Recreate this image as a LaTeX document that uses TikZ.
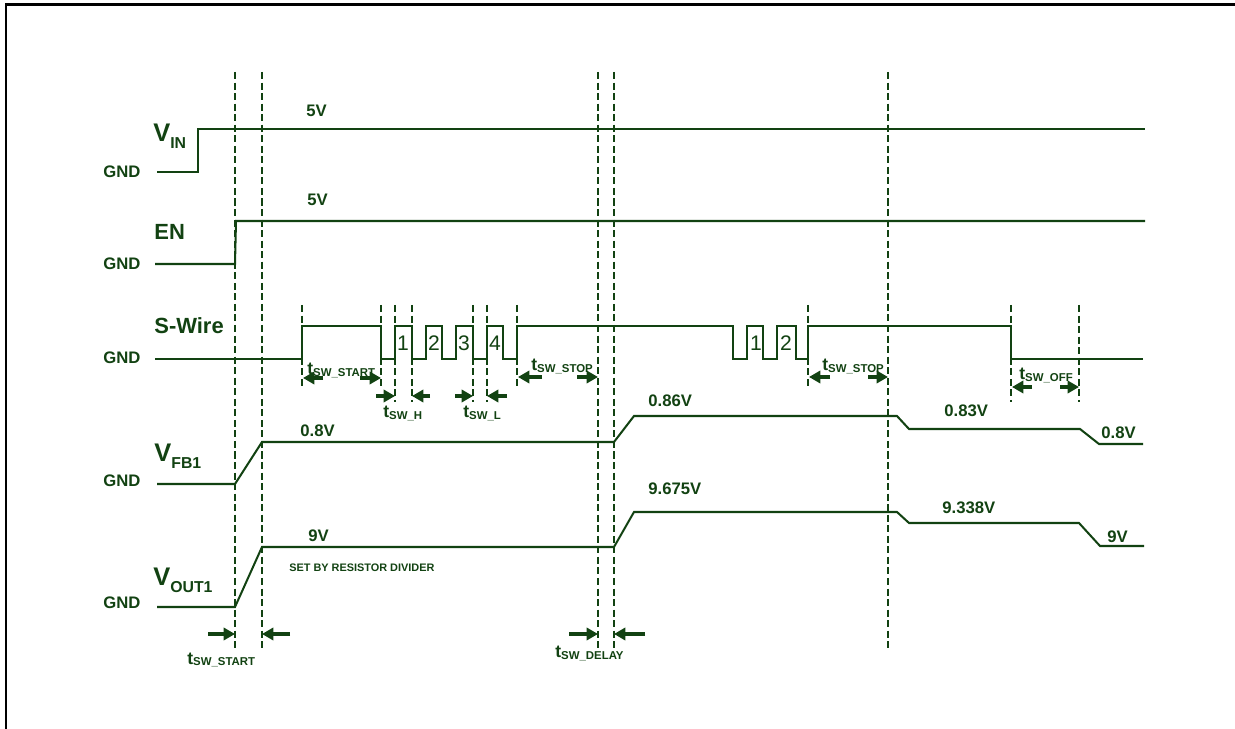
\documentclass[tikz,border=0pt]{standalone}
\usepackage{fontspec}
\setmainfont{Liberation Sans}
\usetikzlibrary{arrows.meta}
\definecolor{wavegreen}{RGB}{18,66,18}
\newcommand{\tsw}[1]{{\fontsize{10}{10}\selectfont t}{\fontsize{6.5}{7}\selectfont\raisebox{-1pt}{SW\_#1}}}
\newcommand{\sgname}[2]{{\fontsize{14.5}{15}\selectfont #1}\raisebox{-3.5pt}{\fontsize{9}{10}\selectfont #2}}

\begin{document}
\begin{tikzpicture}[x=0.02cm,y=-0.02cm,
  wave/.style={wavegreen, line width=1.15pt},
  guide/.style={wavegreen, line width=1.15pt, dash pattern=on 4pt off 2pt},
  dim/.style={wavegreen, line width=1.8pt, -{Triangle[length=6.5pt,width=7pt]}},
  txt/.style={wavegreen, font=\bfseries\fontsize{9.5}{10}\selectfont, inner sep=0pt, anchor=base west}]
\useasboundingbox (0,0) rectangle (1235,729);
\draw[line width=1.5pt] (6,729) -- (6,4.5) -- (1235,4.5);

% long guides
\foreach \x in {235,262,598,614,888} \draw[guide] (\x,72) -- (\x,650);
% short guides on S-Wire
\foreach \x in {302,381,517,808} \draw[guide] (\x,305) -- (\x,388);
\foreach \x in {395,412,473,487,1011,1079} \draw[guide] (\x,305) -- (\x,402);

% signal names
\node[txt] (vin) at (153,142) {\sgname{V}{IN}};
\node[txt, font=\bfseries\fontsize{12.5}{13}\selectfont] (en) at (154,240) {EN};
\node[txt, font=\bfseries\fontsize{12.5}{13}\selectfont] (swire) at (154,334) {S-Wire};
\node[txt] (vfb) at (154,462) {\sgname{V}{FB1}};
\node[txt] (vout) at (153,586) {\sgname{V}{OUT1}};
\foreach \y/\n in {172/gvin,264/gen,358/gsw,481/gfb,603/gout}
  \node[txt, anchor=center] (\n) at (122,\y) {GND};

% waveforms
\draw[wave] (157,172) -- (198,172) -- (198,129) -- (1145,129);
\draw[wave] (155,264) -- (235,264) -- (236,221) -- (1145,221);
\draw[wave] (155,359) -- (302,359) -- (302,326) -- (381,326) -- (381,359) -- (395,359)
  -- (395,326) -- (412,326) -- (412,359) -- (426,359) -- (426,326) -- (442,326)
  -- (442,359) -- (456,359) -- (456,326) -- (473,326) -- (473,359) -- (487,359)
  -- (487,326) -- (503,326) -- (503,359) -- (517,359) -- (517,326) -- (733,326)
  -- (733,359) -- (747,359) -- (747,326) -- (763,326) -- (763,359) -- (777,359)
  -- (777,326) -- (796,326) -- (796,359) -- (808,359) -- (808,326) -- (1011,326)
  -- (1011,359) -- (1143,359);
\draw[wave] (157,484) -- (235,484) -- (262,442) -- (614,442) -- (634,416) -- (897,416)
  -- (909,429) -- (1080,429) -- (1099,444) -- (1143,444);
\draw[wave] (157,607) -- (235,607) -- (262,547) -- (614,547) -- (634,512) -- (897,512)
  -- (909,523) -- (1079,523) -- (1100,546) -- (1144,546);

% pulse numbers
\foreach \x/\d/\n in {403/1/pa,434/2/pb,464/3/pc,495/4/pd,756/1/pe,786/2/pf}
  \node[txt, anchor=center, font=\fontsize{12}{12}\selectfont] (\n) at (\x,343) {\d};

% levels
\node[txt] (l5a) at (306,117) {5V};
\node[txt] (l5b) at (307,206) {5V};
\node[txt] (lfba) at (300,437) {0.8V};
\node[txt] (lfbb) at (648,407) {0.86V};
\node[txt] (lfbc) at (944,417) {0.83V};
\node[txt] (lfbd) at (1101,439) {0.8V};
\node[txt] (lva) at (308,542) {9V};
\node[txt] (lvb) at (648,495) {9.675V};
\node[txt] (lvc) at (942,514) {9.338V};
\node[txt] (lvd) at (1107,543) {9V};
\node[txt, font=\bfseries\fontsize{6.2}{7}\selectfont] (note) at (289,572) {SET BY RESISTOR DIVIDER};

% timing marks
\draw[dim] (323,378) -- (303,378);  \draw[dim] (360,378) -- (381,378);
\draw[dim] (376,396) -- (395,396);  \draw[dim] (430,396) -- (412,396);
\draw[dim] (455,396) -- (473,396);  \draw[dim] (507,396) -- (487,396);
\draw[dim] (542,377) -- (518,377);  \draw[dim] (577,377) -- (598,377);
\draw[dim] (830,377) -- (809,377);  \draw[dim] (868,377) -- (888,377);
\draw[dim] (1032,387) -- (1012,387); \draw[dim] (1060,387) -- (1079,387);
\draw[dim] (208,634) -- (235,634);  \draw[dim] (290,634) -- (262,634);
\draw[dim] (569,634) -- (598,634);  \draw[dim] (645,634) -- (614,634);
\node[txt] (ta) at (307,375) {\tsw{START}};
\node[txt] (tb) at (383,418) {\tsw{H}};
\node[txt] (tc) at (463,418) {\tsw{L}};
\node[txt] (td) at (531,371) {\tsw{STOP}};
\node[txt] (te) at (822,371) {\tsw{STOP}};
\node[txt] (tf) at (1019,380) {\tsw{OFF}};
\node[txt] (tg) at (187,664) {\tsw{START}};
\node[txt] (th) at (555,658) {\tsw{DELAY}};
\end{tikzpicture}
\end{document}
